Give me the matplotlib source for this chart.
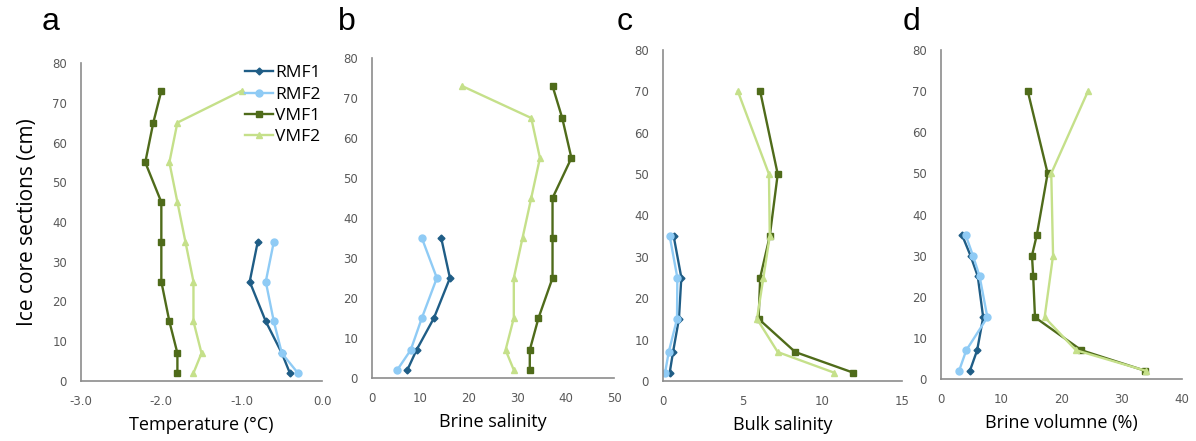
import matplotlib.pyplot as plt

# Depths (cm) of the sampled ice core sections
depth_rmf = [35, 25, 15, 7, 2]
depth_rmf_d = [35, 30, 25, 15, 7, 2]
depth_vmf = [73, 65, 55, 45, 35, 25, 15, 7, 2]
depth_vmf_c = [70, 50, 35, 25, 15, 7, 2]
depth_vmf1_d = [70, 50, 35, 30, 25, 15, 7, 2]
depth_vmf2_d = [70, 50, 30, 15, 7, 2]

# a: temperature (°C)
temp_rmf1 = [-0.8, -0.9, -0.7, -0.5, -0.4]
temp_rmf2 = [-0.6, -0.7, -0.6, -0.5, -0.3]
temp_vmf1 = [-2.0, -2.1, -2.2, -2.0, -2.0, -2.0, -1.9, -1.8, -1.8]
temp_vmf2 = [-1.0, -1.8, -1.9, -1.8, -1.7, -1.6, -1.6, -1.5, -1.6]

# b: brine salinity
bsal_rmf1 = [14.3, 16.1, 12.8, 9.2, 7.3]
bsal_rmf2 = [10.3, 13.4, 10.3, 8.0, 5.2]
bsal_vmf1 = [37.3, 39.3, 41.2, 37.3, 37.3, 37.3, 34.4, 32.6, 32.6]
bsal_vmf2 = [18.6, 32.9, 34.7, 32.9, 31.1, 29.3, 29.3, 27.6, 29.3]

# c: bulk salinity
bulk_rmf1 = [0.67, 1.15, 1.0, 0.63, 0.42]
bulk_rmf2 = [0.42, 0.9, 0.88, 0.36, 0.13]
bulk_vmf1 = [6.1, 7.2, 6.7, 6.1, 6.0, 8.3, 11.95]
bulk_vmf2 = [4.7, 6.65, 6.7, 6.3, 5.9, 7.2, 10.75]

# d: brine volume (%)
bvol_rmf1 = [3.5, 4.9, 6.1, 7.0, 6.0, 4.8]
bvol_rmf2 = [4.1, 5.3, 6.4, 7.7, 4.2, 3.0]
bvol_vmf1 = [14.4, 17.7, 15.9, 15.1, 15.3, 15.6, 23.3, 33.9]
bvol_vmf2 = [24.4, 18.3, 18.6, 17.2, 22.4, 34.0]

styles = {
    "RMF1": dict(color="#1f5d86", marker="D", markersize=3.5),
    "RMF2": dict(color="#8fcbf5", marker="o", markersize=5),
    "VMF1": dict(color="#4f6b1a", marker="s", markersize=5),
    "VMF2": dict(color="#c5e08a", marker="^", markersize=5),
}

W, H = 1196, 441
fig = plt.figure(figsize=(W / 100, H / 100), dpi=100)


def px_axes(x0, x1, y0, y1):
    # axes from pixel box (top-left origin)
    return fig.add_axes([x0 / W, 1 - y1 / H, (x1 - x0) / W, (y1 - y0) / H])


panels = [
    ("a", px_axes(81, 322, 63, 381), (-3, 0), [-3, -2, -1, 0], "{:.1f}", "Temperature (°C)",
     [(temp_rmf1, depth_rmf), (temp_rmf2, depth_rmf), (temp_vmf1, depth_vmf), (temp_vmf2, depth_vmf)]),
    ("b", px_axes(372, 614, 58, 378), (0, 50), [0, 10, 20, 30, 40, 50], "{:.0f}", "Brine salinity",
     [(bsal_rmf1, depth_rmf), (bsal_rmf2, depth_rmf), (bsal_vmf1, depth_vmf), (bsal_vmf2, depth_vmf)]),
    ("c", px_axes(663, 902, 50, 381), (0, 15), [0, 5, 10, 15], "{:.0f}", "Bulk salinity",
     [(bulk_rmf1, depth_rmf), (bulk_rmf2, depth_rmf), (bulk_vmf1, depth_vmf_c), (bulk_vmf2, depth_vmf_c)]),
    ("d", px_axes(941, 1182, 50, 379), (0, 40), [0, 10, 20, 30, 40], "{:.0f}", "Brine volumne (%)",
     [(bvol_rmf1, depth_rmf_d), (bvol_rmf2, depth_rmf_d), (bvol_vmf1, depth_vmf1_d), (bvol_vmf2, depth_vmf2_d)]),
]

label_font = ["Open Sans", "DejaVu Sans"]
letter_x = {"a": 42, "b": 338, "c": 617, "d": 903}

for letter, ax, xlim, xticks, fmt, xlabel, series in panels:
    for name, (xs, ys) in zip(styles, series):
        ax.plot(xs, ys, lw=1.7, label=name, **styles[name])
    ax.set_xlim(*xlim)
    ax.set_ylim(0, 80)
    ax.set_xticks(xticks)
    ax.set_xticklabels([fmt.format(t) for t in xticks])
    ax.set_yticks(range(0, 81, 10))
    for side in ("top", "right"):
        ax.spines[side].set_visible(False)
    for side in ("left", "bottom"):
        ax.spines[side].set_color("#8c8c8c")
        ax.spines[side].set_linewidth(1.2)
    ax.tick_params(length=0, labelsize=8.5, labelcolor="#595959", pad=10)
    ax.set_xlabel(xlabel, fontsize=13, family=label_font, labelpad=6)
    fig.text(letter_x[letter] / W, 1 - 22 / H, letter, fontsize=23,
             family=["Liberation Sans", "DejaVu Sans"], va="center", ha="left")

axa = panels[0][1]
axa.set_ylabel("Ice core sections (cm)", fontsize=15, family=label_font, labelpad=10)
axa.legend(loc="upper left", bbox_to_anchor=(157 / 241, 1.015), frameon=False,
           handlelength=1.6, handletextpad=0.15, labelspacing=0.3, borderaxespad=0,
           prop={"family": ["Open Sans", "DejaVu Sans"], "size": 12.5})

fig.savefig("out.png", dpi=100)
